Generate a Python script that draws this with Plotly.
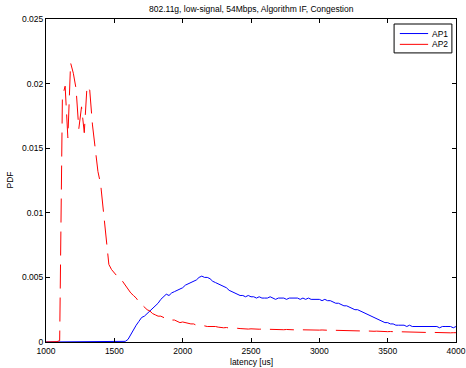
import plotly.graph_objects as go

# latency bin centres [us]
latency = list(range(1000, 4001, 20))

# AP1 probability density per bin
ap1_pdf = [
    0, 0, 0, 0, 0, 0, 0, 0, 0, 0,                      # 1000-1180
    0, 0, 0, 0, 0, 0, 0, 0, 0, 0,                      # 1200-1380
    0.00003, 0.00003, 0.00004, 0.00004, 0.00004, 0.00004, 0.00004, 0.00004, 0.00005, 0.00005,  # 1400-1580
    0.0002, 0.0006, 0.0010, 0.0013, 0.0016, 0.0019, 0.0020, 0.0022, 0.0024, 0.0026,  # 1600-1780
    0.0028, 0.0030, 0.0033, 0.0035, 0.0037, 0.0036, 0.0038, 0.0039, 0.0040, 0.0041,  # 1800-1980
    0.0042, 0.0044, 0.0045, 0.0046, 0.0047, 0.0048, 0.0050, 0.0051, 0.0050, 0.0050,  # 2000-2180
    0.0049, 0.0047, 0.0046, 0.0045, 0.0044, 0.0043, 0.0042, 0.0040, 0.0039, 0.0038,  # 2200-2380
    0.0037, 0.0036, 0.0036, 0.0035, 0.0036, 0.0035, 0.0035, 0.0034, 0.0035, 0.0034,  # 2400-2580
    0.0034, 0.0034, 0.0035, 0.0034, 0.0033, 0.0034, 0.0034, 0.0034, 0.0033, 0.0034,  # 2600-2780
    0.0034, 0.0034, 0.0034, 0.0033, 0.0034, 0.0033, 0.0034, 0.0033, 0.0033, 0.0033,  # 2800-2980
    0.0033, 0.0032, 0.0033, 0.0032, 0.0032, 0.0031, 0.0030, 0.0030, 0.0029, 0.0028,  # 3000-3180
    0.0028, 0.0027, 0.0026, 0.0025, 0.0025, 0.0024, 0.0023, 0.0022, 0.0021, 0.0020,  # 3200-3380
    0.0019, 0.0018, 0.0017, 0.0016, 0.0015, 0.0015, 0.0014, 0.0014, 0.0013, 0.0013,  # 3400-3580
    0.0013, 0.0013, 0.0012, 0.0013, 0.0012, 0.0012, 0.0012, 0.0012, 0.0012, 0.0012,  # 3600-3780
    0.0012, 0.0012, 0.0012, 0.0012, 0.0011, 0.0012, 0.0012, 0.0012, 0.0012, 0.0011,  # 3800-3980
    0.0012,                                             # 4000
]

# AP2 probability density per bin
ap2_pdf = [
    0, 0, 0, 0.00002, 0.00003, 0.0001, 0.0190, 0.0198, 0.0158, 0.0216,  # 1000-1180
    0.0208, 0.0196, 0.0165, 0.0182, 0.0162, 0.0198, 0.0195, 0.0168, 0.0148, 0.0132,  # 1200-1380
    0.0122, 0.0101, 0.0078, 0.0060, 0.0056, 0.0053, 0.0051, 0.0050, 0.0047, 0.0044,  # 1400-1580
    0.0041, 0.0038, 0.0036, 0.0034, 0.0031, 0.0029, 0.0027, 0.0025, 0.0024, 0.0022,  # 1600-1780
    0.0021, 0.0020, 0.0020, 0.0019, 0.0018, 0.0018, 0.0017, 0.0017, 0.0016, 0.0015,  # 1800-1980
    0.00155, 0.0015, 0.0014, 0.0014, 0.0014, 0.0013, 0.0013, 0.0013, 0.00125, 0.0012,  # 2000-2180
    0.0012, 0.00122, 0.0012, 0.00115, 0.00112, 0.0011, 0.00112, 0.00108, 0.0011, 0.00105,  # 2200-2380
    0.00106, 0.00104, 0.00102, 0.00104, 0.001, 0.00102, 0.001, 0.00101, 0.00099, 0.001,  # 2400-2580
    0.00099, 0.00098, 0.001, 0.00097, 0.00098, 0.00096, 0.00098, 0.00095, 0.00097, 0.00095,  # 2600-2780
    0.00096, 0.00094, 0.00095, 0.00094, 0.00095, 0.00093, 0.00094, 0.00093, 0.00092, 0.00093,  # 2800-2980
    0.00092, 0.00093, 0.00091, 0.00092, 0.0009, 0.00091, 0.0009, 0.00089, 0.0009, 0.00088,  # 3000-3180
    0.00089, 0.00087, 0.00088, 0.00086, 0.00087, 0.00086, 0.00085, 0.00086, 0.00084, 0.00085,  # 3200-3380
    0.00083, 0.00084, 0.00082, 0.00083, 0.00081, 0.0008, 0.00081, 0.00079, 0.0008, 0.00078,  # 3400-3580
    0.00079, 0.00078, 0.00077, 0.00078, 0.00076, 0.00077, 0.00076, 0.00075, 0.00076, 0.00074,  # 3600-3780
    0.00075, 0.00074, 0.00073, 0.00074, 0.00073, 0.00072, 0.00073, 0.00072, 0.00071, 0.00072,  # 3800-3980
    0.00072,                                            # 4000
]

x_ticks = [1000, 1500, 2000, 2500, 3000, 3500, 4000]
y_ticks = [0, 0.005, 0.01, 0.015, 0.02, 0.025]
y_tick_text = ["0", "0.005", "0.01", "0.015", "0.02", "0.025"]

series_names = ["AP1", "AP2"]
series_colors = ["#0000ff", "#ff0000"]

FONT = "Liberation Sans, Arial, sans-serif"
FS = 8.5

fig = go.Figure()
fig.add_trace(go.Scatter(x=latency, y=ap1_pdf, mode="lines", name=series_names[0],
                         showlegend=False, line=dict(color=series_colors[0], width=1)))
fig.add_trace(go.Scatter(x=latency, y=ap2_pdf, mode="lines", name=series_names[1],
                         showlegend=False, line=dict(color=series_colors[1], width=1, dash="24px,9px")))

axis_common = dict(showline=True, linecolor="black", linewidth=1, mirror="ticks",
                   ticks="inside", ticklen=4, tickcolor="black", showgrid=False,
                   zeroline=False, automargin=False,
                   tickfont=dict(family=FONT, size=FS, color="black"))

# boxed legend in the upper-right corner, MATLAB style
shapes = [dict(type="rect", xref="paper", yref="paper", x0=0.849, x1=0.990, y0=0.895, y1=0.9845,
               line=dict(color="black", width=1), fillcolor="white", layer="above")]
annotations = []
for i, (name, color) in enumerate(zip(series_names, series_colors)):
    yy = 0.955 - i * 0.0335
    shapes.append(dict(type="line", xref="paper", yref="paper", x0=0.863, x1=0.932, y0=yy, y1=yy,
                       line=dict(color=color, width=1), layer="above"))
    annotations.append(dict(text=name, xref="paper", yref="paper", x=0.936, y=yy, xanchor="left",
                            yanchor="middle", showarrow=False, font=dict(family=FONT, size=FS)))

annotations += [
    dict(text="802.11g, low-signal, 54Mbps, Algorithm IF, Congestion", xref="paper", yref="paper",
         x=0.5, y=1, yanchor="bottom", yshift=3, showarrow=False, font=dict(family=FONT, size=FS)),
    dict(text="latency [us]", xref="paper", yref="paper", x=0.5, y=0, yanchor="top",
         yshift=-13, showarrow=False, font=dict(family=FONT, size=FS)),
    dict(text="PDF", xref="paper", yref="paper", x=0, y=0.5, xanchor="right",
         xshift=-30, textangle=-90, showarrow=False, font=dict(family=FONT, size=FS)),
]

fig.update_layout(
    width=466, height=368,
    margin=dict(l=46, r=10, t=19, b=26),
    paper_bgcolor="white", plot_bgcolor="white",
    font=dict(family=FONT, size=FS, color="black"),
    showlegend=False,
    xaxis=dict(range=[1000, 4000], tickvals=x_ticks, ticklabelstandoff=1, **axis_common),
    yaxis=dict(range=[0, 0.025], tickvals=y_ticks, ticktext=y_tick_text, **axis_common),
    shapes=shapes,
    annotations=annotations,
)

fig.write_html("out.html")
